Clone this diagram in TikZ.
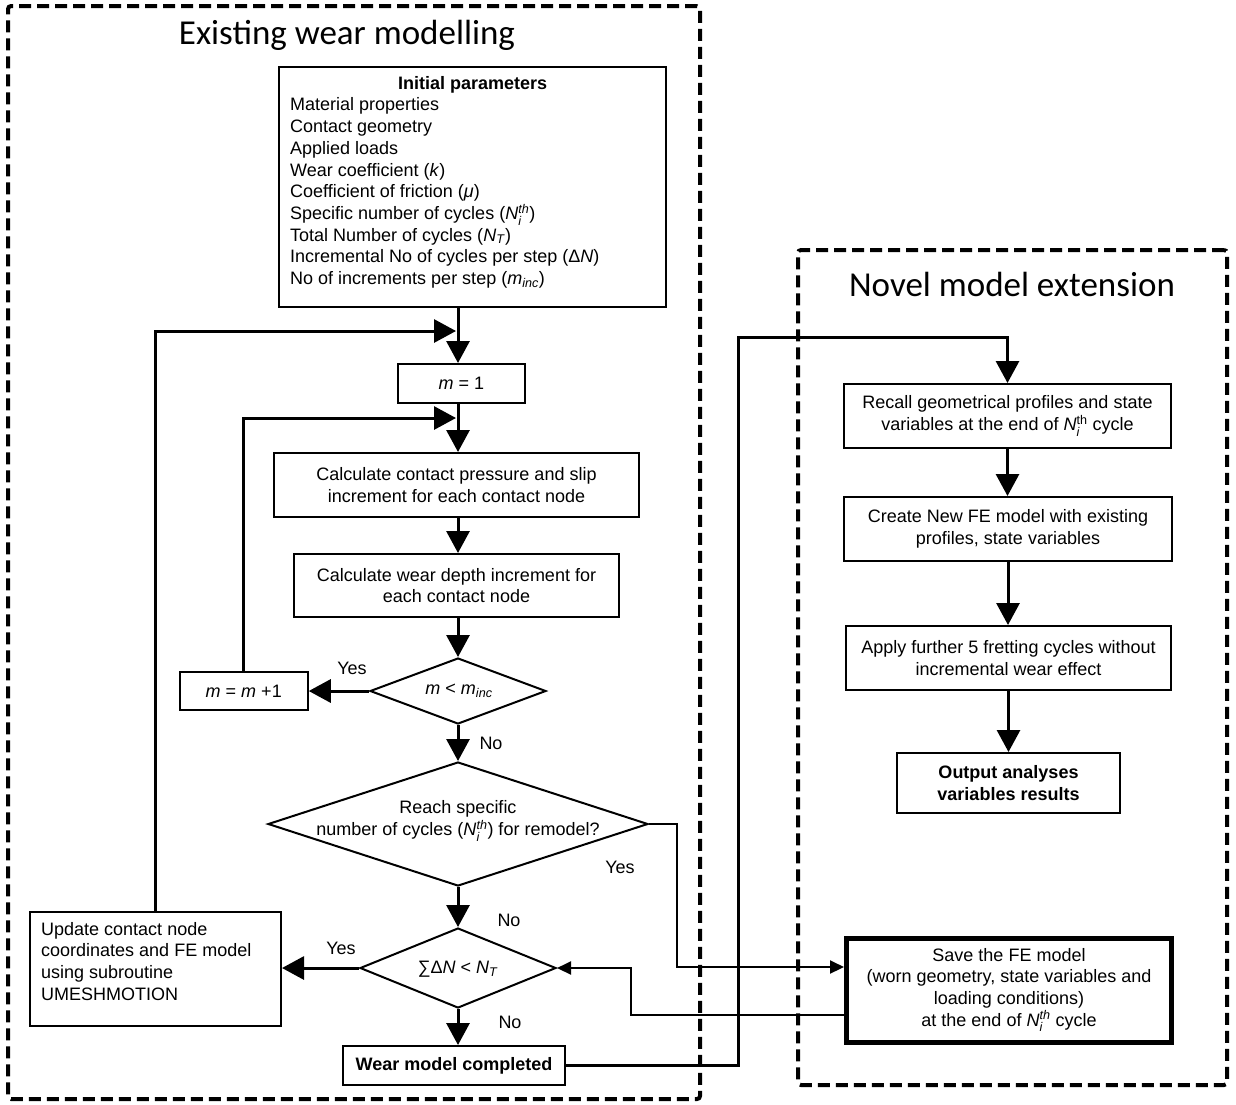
\documentclass[tikz,border=0pt]{standalone}
\usepackage{fontspec}
\usepackage{amsmath}
\setmainfont{Liberation Sans}
\newfontfamily\titlefont{Carlito}
\usetikzlibrary{arrows.meta,shapes.geometric}
\newcommand{\fsz}{\fontsize{18}{21.7}\selectfont}
\newcommand{\Nith}{\textit{N}$_{\text{\itshape i}}^{\text{\itshape th}}$}
\newcommand{\Nithup}{\textit{N}$_{\text{\itshape i}}^{\text{th}}$}
\begin{document}
\begin{tikzpicture}[x=1pt,y=-1pt,
  box/.style={draw, line width=2pt, rectangle, inner sep=0pt, align=center, font=\fsz},
  thickbox/.style={box, line width=5pt},
  dia/.style={draw, diamond, line width=2pt, inner sep=0pt},
  txt/.style={inner sep=0pt, align=center, font=\fsz},
  arr/.style={line width=3pt, -{Triangle[length=22pt,width=23pt]}},
  tarr/.style={line width=2pt, -{Triangle[length=14pt,width=13pt]}},
  frame/.style={draw, line width=4pt, dash pattern=on 12pt off 6pt, rounded corners=3pt, inner sep=0pt},
  ttl/.style={font=\titlefont\fontsize{35}{40}\selectfont, inner sep=0pt, anchor=base}]
\useasboundingbox (0,0) rectangle (1236,1104);

% frames
\node[frame, minimum width=692pt, minimum height=1093pt] (frameL) at (354,552.5) {};
\node[frame, minimum width=429pt, minimum height=835pt] (frameR) at (1012.5,667.5) {};
\node[ttl] (t1) at (347,44) {Existing wear modelling};
\node[ttl] (t2) at (1012,296) {Novel model extension};

% main column
\coordinate (ax) at (458,0);
\coordinate (j1) at (456,331);
\coordinate (j2) at (456,418);

\node[box, minimum width=387pt, minimum height=240pt] (init) at (472.5,187) {};
\node[txt, align=left, anchor=north west] (initT) at (290,76)
  {\makebox[365pt]{\textbf{Initial parameters}}\\
   Material properties\\
   Contact geometry\\
   Applied loads\\
   Wear coefficient (\textit{k})\\
   Coefficient of friction (\textit{μ})\\
   Specific number of cycles (\Nith)\\
   Total Number of cycles (\textit{N}\textsubscript{\textit{T}})\\
   Incremental No of cycles per step (Δ\textit{N})\\
   No of increments per step (\textit{m}\textsubscript{\textit{inc}})};

\node[box, minimum width=127pt, minimum height=39pt] (m1) at (461.5,383.5) {\textit{m} = 1};
\node[box, minimum width=365pt, minimum height=64pt] (calc1) at (456.5,485)
  {Calculate contact pressure and slip\\increment for each contact node};
\node[box, minimum width=325pt, minimum height=63pt] (calc2) at (456.5,585.5)
  {Calculate wear depth increment for\\each contact node};
\node[dia, minimum width=176pt, minimum height=66pt] (d1) at (458,691) {};
\node[txt] (d1t) at (459,691) {\textit{m} < \textit{m}\textsubscript{\textit{inc}}};
\node[box, minimum width=128pt, minimum height=38pt] (mm1) at (243.75,691) {\textit{m} = \textit{m} +1};

\node[dia, minimum width=380pt, minimum height=124pt] (d2) at (458,824) {};
\node[txt] (d2t) at (458,821) {Reach specific\\number of cycles (\Nith) for remodel?};
\node[dia, minimum width=196pt, minimum height=80pt] (d3) at (458,968) {};
\node[txt] (d3t) at (458,969) {∑Δ\textit{N} < \textit{N}\textsubscript{\textit{T}}};

\node[box, minimum width=251pt, minimum height=114pt] (update) at (155.5,969) {};
\node[txt, align=left, anchor=north west] (updT) at (41,922)
  {Update contact node\\coordinates and FE model\\using subroutine\\UMESHMOTION};
\node[box, minimum width=222pt, minimum height=39pt] (wear) at (454,1065.5) {\textbf{Wear model completed}};

% right column
\node[box, minimum width=327pt, minimum height=64pt] (recall) at (1007.5,416)
  {Recall geometrical profiles and state\\variables at the end of \Nithup{} cycle};
\node[box, minimum width=328pt, minimum height=64pt] (create) at (1008,529)
  {Create New FE model with existing\\profiles, state variables};
\node[box, minimum width=325pt, minimum height=64pt] (apply) at (1008.5,658)
  {Apply further 5 fretting cycles without\\incremental wear effect};
\node[box, minimum width=223pt, minimum height=60pt] (output) at (1008.5,783)
  {\textbf{Output analyses}\\\textbf{variables results}};
\node[thickbox, minimum width=325pt, minimum height=104pt] (save) at (1009,990)
  {Save the FE model\\(worn geometry, state variables and\\loading conditions)\\at the end of \Nith{} cycle};

% labels
\node[txt] (y1) at (352,668) {Yes};
\node[txt] (n1) at (491,743) {No};
\node[txt] (y2) at (620,867) {Yes};
\node[txt] (n2) at (509,920) {No};
\node[txt] (y3) at (341,948) {Yes};
\node[txt] (n3) at (510,1022) {No};

% connectors
\coordinate (s1) at (677,967);
\coordinate (s2) at (631,1015);
\coordinate (w2) at (738,337);

\draw[arr] (ax |- init.south) -- (ax |- m1.north);
\draw[arr] (update.north) |- (j1);
\draw[arr] (ax |- m1.south) -- (ax |- calc1.north);
\draw[arr] (mm1.north) |- (j2);
\draw[arr] (ax |- calc1.south) -- (ax |- calc2.north);
\draw[arr] (ax |- calc2.south) -- (d1.north);
\draw[arr] (d1.west) -- (mm1.east);
\draw[arr] (d1.south) -- (d2.north);
\draw[arr] (d2.south) -- (d3.north);
\draw[arr] (d3.west) -- (update.east |- d3.west);
\draw[arr] (d3.south) -- (d3.south |- wear.north);
\draw[tarr] (d2.east) -| (s1) -- (s1 -| save.west);
\draw[tarr] (s2 -| save.west) -- (s2) |- (d3.east);
\draw[arr] (wear.east) -| (w2) -| (recall.north);
\draw[arr] (recall.south) -- (recall.south |- create.north);
\draw[arr] (create.south) -- (create.south |- apply.north);
\draw[arr] (apply.south) -- (apply.south |- output.north);
\end{tikzpicture}
\end{document}
